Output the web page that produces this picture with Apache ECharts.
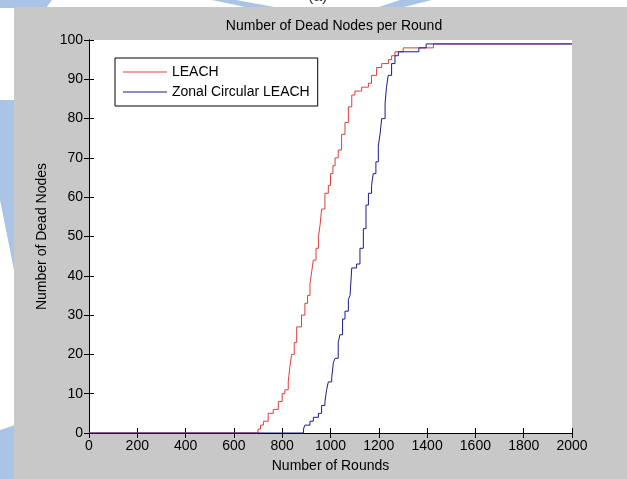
<!DOCTYPE html>
<html><head><meta charset="utf-8">
<script src="https://cdn.jsdelivr.net/npm/echarts@6/dist/echarts.min.js"></script>
<style>html,body{margin:0;padding:0;background:#fff}#c{width:627px;height:479px}</style>
</head><body><div id="c"></div>
<script>
var titleText = 'Number of Dead Nodes per Round';
var xName = 'Number of Rounds';
var yName = 'Number of Dead Nodes';
var seriesNames = ['LEACH', 'Zonal Circular LEACH'];

var leachRounds = [0, 700, 710, 722, 742, 763, 784, 800, 811, 825, 832, 839, 850, 860, 880, 894, 905, 915, 922, 929, 940, 950, 957, 963, 977, 991, 1000, 1010, 1019, 1032, 1046, 1060, 1074, 1088, 1101, 1129, 1157, 1170, 1191, 1212, 1240, 1253, 1267, 1301, 1426, 2000];
var leachDead   = [0, 1, 2, 3, 5, 6, 8, 10, 11, 13, 17, 20, 23, 27, 30, 33, 35, 38, 41, 44, 47, 50, 53, 57, 61, 63, 66, 68, 70, 72, 76, 79, 83, 86, 87, 88, 89, 91, 93, 94, 95, 96, 97, 98, 99, 99];

var zonalRounds = [0, 888, 894, 915, 929, 950, 963, 977, 984, 991, 1005, 1012, 1019, 1032, 1039, 1050, 1060, 1074, 1081, 1088, 1108, 1122, 1136, 1147, 1157, 1170, 1177, 1188, 1198, 1205, 1212, 1226, 1232, 1239, 1253, 1267, 1281, 1366, 1396, 2000];
var zonalDead   = [0, 1, 2, 3, 4, 5, 7, 8, 11, 13, 14, 18, 19, 23, 25, 29, 31, 34, 35, 42, 43, 47, 52, 58, 61, 63, 66, 69, 73, 76, 80, 84, 88, 91, 94, 96, 97, 98, 99, 99];

function pairs(xs, ys){ return xs.map(function(x,i){ return [x, ys[i]]; }); }

var FONT = 'Liberation Sans, Arial, sans-serif';
var chart = echarts.init(document.getElementById('c'), null, {renderer:'canvas'});
var wm = '#a9c4e4';
var axisCommon = {
  type:'value', splitLine:{show:false},
  axisLine:{show:true, lineStyle:{color:'#000', width:1}},
  axisTick:{show:true, inside:true, length:5, lineStyle:{color:'#000'}}
};
function plain(v){ return String(v); }
chart.setOption({
  animation:false,
  backgroundColor:'#fff',
  graphic:[
    {type:'polygon', z:-10, shape:{points:[[0,0],[52,0],[46,8],[0,8]]}, style:{fill:wm}},
    {type:'polygon', z:-10, shape:{points:[[212,0],[236,0],[280,8],[250,8]]}, style:{fill:wm}},
    {type:'polygon', z:-10, shape:{points:[[400,0],[432,0],[400,8],[376,8]]}, style:{fill:wm}},
    {type:'polygon', z:-10, shape:{points:[[0,100],[15,100],[15,275],[0,200]]}, style:{fill:wm}},
    {type:'polygon', z:-10, shape:{points:[[0,430],[15,425],[15,479],[0,479]]}, style:{fill:wm}},
    {type:'text', z:-10, left:308, top:-11, style:{text:'(a)', fontSize:16, fontFamily:FONT, fill:'#333'}},
    {type:'rect', z:-5, shape:{x:14, y:7, width:613, height:472}, style:{fill:'#c8c8c8'}},
    {type:'rect', z:-4, shape:{x:89, y:40, width:483, height:393}, style:{fill:'#fff'}}
  ],
  title:{text:titleText, left:329, top:14, textAlign:'center',
    textStyle:{fontSize:14, fontWeight:'normal', color:'#000', fontFamily:FONT}},
  legend:{
    orient:'vertical', left:115, top:58, padding:[7,8,7,8], itemGap:6,
    backgroundColor:'#fff', borderColor:'#000', borderWidth:1, borderRadius:0,
    icon:'rect', itemWidth:44, itemHeight:1.2,
    textStyle:{fontSize:14, color:'#000', fontFamily:FONT},
    data:seriesNames
  },
  grid:{left:89, right:55, top:40, bottom:46, show:false},
  xAxis:[
    Object.assign({}, axisCommon, {min:0, max:2000, interval:200, position:'bottom',
      name:xName, nameLocation:'middle', nameGap:26,
      nameTextStyle:{fontSize:14, color:'#000', fontFamily:FONT},
      axisLabel:{color:'#000', fontSize:14, fontFamily:FONT, margin:6, formatter:plain}}),
    Object.assign({}, axisCommon, {min:0, max:2000, interval:200, position:'top', axisLabel:{show:false}})
  ],
  yAxis:[
    Object.assign({}, axisCommon, {min:0, max:100, interval:10, position:'left',
      name:yName, nameLocation:'middle', nameGap:38,
      nameTextStyle:{fontSize:14, color:'#000', fontFamily:FONT},
      axisLabel:{color:'#000', fontSize:14, fontFamily:FONT, margin:6, formatter:plain}}),
    Object.assign({}, axisCommon, {min:0, max:100, interval:10, position:'right', axisLabel:{show:false}})
  ],
  series:[
    {name:seriesNames[0], type:'line', step:'end', showSymbol:false, symbol:'none',
     data:pairs(leachRounds, leachDead), color:'#d9403c', lineStyle:{width:1, color:'#d9403c'}},
    {name:seriesNames[1], type:'line', step:'end', showSymbol:false, symbol:'none',
     data:pairs(zonalRounds, zonalDead), color:'#1c1c8a', lineStyle:{width:1, color:'#1c1c8a'}}
  ]
});
</script></body></html>
